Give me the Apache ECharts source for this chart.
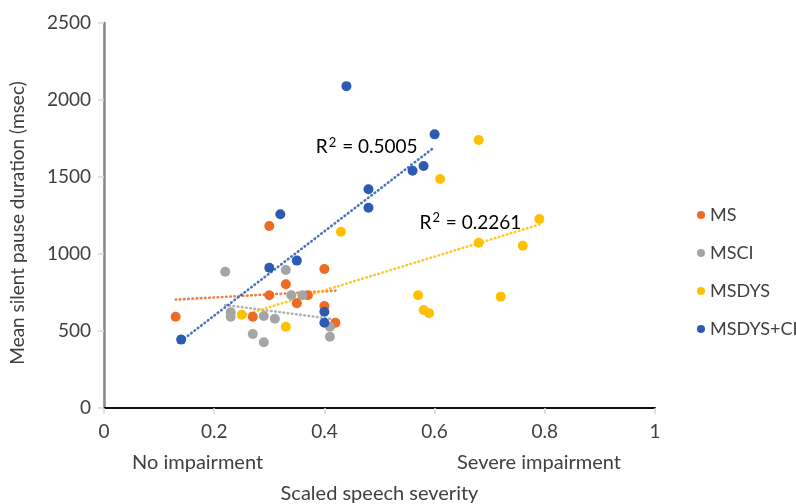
<!DOCTYPE html>
<html>
<head>
<meta charset="utf-8">
<script src="https://cdn.jsdelivr.net/npm/echarts@6/dist/echarts.min.js"></script>
<style>
  html, body { margin: 0; padding: 0; background: #fff; }
  #chart { width: 796px; height: 504px; }
</style>
</head>
<body>
<div id="chart"></div>
<script>
// values
const msX = [0.13, 0.27, 0.30, 0.30, 0.33, 0.35, 0.37, 0.40, 0.40, 0.42];
const msY = [593, 593, 1182, 732, 803, 680, 732, 903, 662, 554];

const msciX = [0.22, 0.33, 0.34, 0.36, 0.23, 0.23, 0.29, 0.31, 0.41, 0.41, 0.27, 0.29];
const msciY = [885, 896, 732, 732, 621, 593, 597, 580, 528, 463, 481, 427];

const msdysX = [0.25, 0.33, 0.43, 0.57, 0.58, 0.59, 0.61, 0.68, 0.68, 0.72, 0.76, 0.79];
const msdysY = [606, 528, 1145, 732, 636, 615, 1487, 1740, 1073, 723, 1054, 1227];

const msdysciX = [0.14, 0.30, 0.32, 0.35, 0.40, 0.40, 0.44, 0.48, 0.48, 0.56, 0.58, 0.60];
const msdysciY = [444, 911, 1258, 957, 625, 554, 2090, 1420, 1300, 1541, 1571, 1777];

const seriesNames = ['MS', 'MSCI', 'MSDYS', 'MSDYS+CI'];
const r2Values = ['0.5005', '0.2261'];
const xTicks = [0, 0.2, 0.4, 0.6, 0.8, 1];
const yTicks = [0, 500, 1000, 1500, 2000, 2500];

const colors = ['#ED6B22', '#A5A5A5', '#FFC000', '#2E5BB2'];
const font = 'Lato';
const txt = '#404040';

function pairs(xs, ys) {
  return xs.map((x, i) => [x, ys[i]]);
}

// least squares line, drawn from smallest to largest x like Excel does
function trend(xs, ys) {
  const n = xs.length;
  const mx = xs.reduce((a, b) => a + b, 0) / n;
  const my = ys.reduce((a, b) => a + b, 0) / n;
  let sxy = 0, sxx = 0;
  for (let i = 0; i < n; i++) {
    sxy += (xs[i] - mx) * (ys[i] - my);
    sxx += (xs[i] - mx) * (xs[i] - mx);
  }
  const b = sxy / sxx;
  const a = my - b * mx;
  const x0 = Math.min(...xs), x1 = Math.max(...xs);
  return [[x0, a + b * x0], [x1, a + b * x1]];
}

const groups = [[msX, msY], [msciX, msciY], [msdysX, msdysY], [msdysciX, msdysciY]];
const lines = groups.map(g => trend(g[0], g[1]));

const series = [];
groups.forEach((g, i) => {
  series.push({
    name: seriesNames[i] + ' trend',
    type: 'line',
    data: lines[i],
    symbol: 'none',
    silent: true,
    z: 1,
    lineStyle: { color: colors[i], width: 2.6, type: [0.6, 3.6], cap: 'round', opacity: 0.85 }
  });
});
groups.forEach((g, i) => {
  series.push({
    name: seriesNames[i],
    type: 'scatter',
    data: pairs(g[0], g[1]),
    symbolSize: 10,
    z: 3,
    itemStyle: { color: colors[i], opacity: 1 }
  });
});

const chart = echarts.init(document.getElementById('chart'));
const option = {
  animation: false,
  backgroundColor: '#fff',
  textStyle: { fontFamily: font },
  // fixed plot box, no auto shrinking for labels
  grid: { left: 104, right: 141, top: 23, bottom: 96, containLabel: false, outerBoundsMode: 'none' },
  legend: {
    data: seriesNames,
    orient: 'vertical',
    left: 692,
    top: 201,
    icon: 'circle',
    itemWidth: 8,
    itemHeight: 8,
    itemGap: 20,
    textStyle: { fontFamily: font, fontSize: 18, color: txt, lineHeight: 18, width: 100, overflow: 'none' }
  },
  xAxis: [
    {
      type: 'value',
      min: xTicks[0],
      max: xTicks[xTicks.length - 1],
      interval: 0.2,
      name: 'Scaled speech severity',
      nameLocation: 'middle',
      nameGap: 76,
      nameTextStyle: { fontFamily: font, fontSize: 20, color: txt },
      axisLine: { lineStyle: { color: '#D9D9D9', width: 2 } },
      axisTick: { show: true, length: 6, lineStyle: { color: '#D9D9D9', width: 1.5 } },
      axisLabel: { fontFamily: font, fontSize: 19, color: txt, margin: 14 },
      splitLine: { show: false }
    },
    {
      type: 'value',
      position: 'top',
      min: 0,
      max: 1,
      axisLine: { lineStyle: { color: '#111', width: 2 } },
      axisTick: { show: false },
      axisLabel: { show: false },
      splitLine: { show: false }
    }
  ],
  yAxis: [
    {
      type: 'value',
      min: yTicks[0],
      max: yTicks[yTicks.length - 1],
      interval: 500,
      axisLine: { show: true, lineStyle: { color: '#D9D9D9', width: 2 } },
      axisTick: { show: true, length: 6, lineStyle: { color: '#D9D9D9', width: 1.5 } },
      axisLabel: { fontFamily: font, fontSize: 19, color: txt, margin: 13, formatter: v => String(v) },
      splitLine: { show: false }
    },
    {
      type: 'value',
      position: 'right',
      min: 0,
      max: 2500,
      axisLine: { show: true, lineStyle: { color: '#888', width: 2.5 } },
      axisTick: { show: false },
      axisLabel: { show: false },
      splitLine: { show: false }
    }
  ],
  series: series
};
chart.setOption(option);

// R² labels sit just left of the end of their trend lines
const blueEnd = chart.convertToPixel({ xAxisIndex: 0, yAxisIndex: 0 }, lines[3][1]);
const yellowEnd = chart.convertToPixel({ xAxisIndex: 0, yAxisIndex: 0 }, lines[2][1]);
const r2Rich = {
  t: { fontFamily: font, fontSize: 19, color: '#222' },
  s: { fontFamily: font, fontSize: 13, color: '#222', padding: [0, 1, 9, 1] }
};
chart.setOption({
  graphic: [
    {
      type: 'text', x: 18, y: 223, rotation: Math.PI / 2,
      style: { text: 'Mean silent pause duration (msec)', font: '19px ' + font, fill: txt, align: 'center', verticalAlign: 'middle' }
    },
    {
      type: 'text', x: blueEnd[0] - 17, y: blueEnd[1],
      style: { text: '{t|R}{s|2}{t| = ' + r2Values[0] + '}', rich: r2Rich, align: 'right', verticalAlign: 'middle' }
    },
    {
      type: 'text', x: yellowEnd[0] - 18, y: yellowEnd[1] - 2,
      style: { text: '{t|R}{s|2}{t| = ' + r2Values[1] + '}', rich: r2Rich, align: 'right', verticalAlign: 'middle' }
    },
    {
      type: 'text', left: 132, top: 453,
      style: { text: 'No impairment', font: '20px ' + font, fill: txt }
    },
    {
      type: 'text', left: 457, top: 453,
      style: { text: 'Severe impairment', font: '20px ' + font, fill: txt }
    }
  ]
});
</script>
</body>
</html>
